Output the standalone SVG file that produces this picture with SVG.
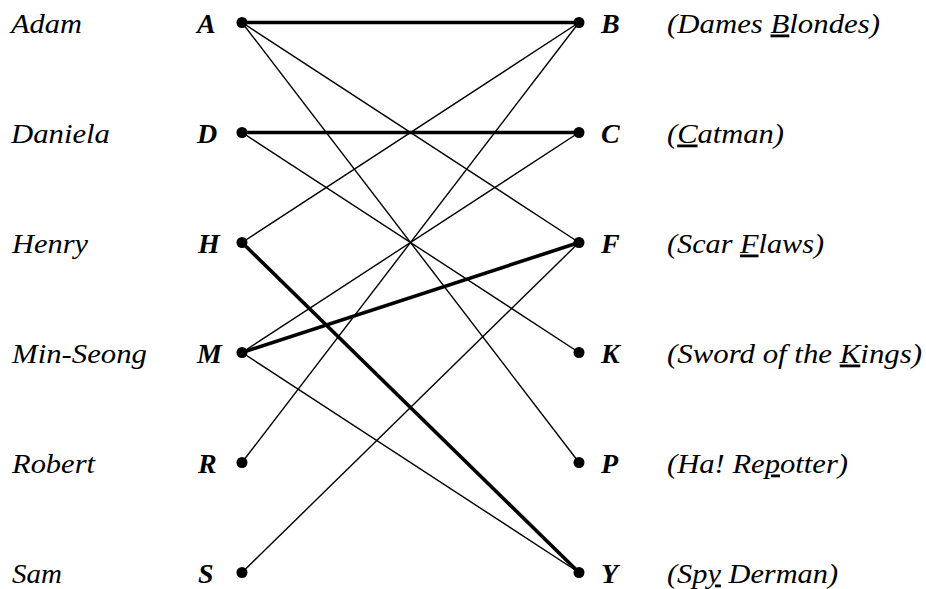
<svg xmlns="http://www.w3.org/2000/svg" width="926" height="589" viewBox="0 0 926 589">
<style>
text{font-family:"Liberation Serif","Times New Roman",serif;font-size:28px;fill:#000}
.nm{font-style:italic}
.lt{font-style:italic;font-weight:bold}
.u{text-decoration:underline}
.thin{stroke:#000;stroke-width:1.4;fill:none}
.thick{stroke:#000;stroke-width:3.6;fill:none}
.dot{fill:#000}
</style>
<rect width="926" height="589" fill="#fff"/>
<g id="connectors">
<line class="thick" x1="242" y1="22.5" x2="579" y2="22.5"/>
<line class="thin" x1="242" y1="22.5" x2="579" y2="242.5"/>
<line class="thin" x1="242" y1="22.5" x2="579" y2="462.5"/>
<line class="thick" x1="242" y1="132.5" x2="579" y2="132.5"/>
<line class="thin" x1="242" y1="132.5" x2="579" y2="352.5"/>
<line class="thin" x1="242" y1="242.5" x2="579" y2="22.5"/>
<line class="thick" x1="242" y1="242.5" x2="579" y2="572.5"/>
<line class="thin" x1="242" y1="352.5" x2="579" y2="132.5"/>
<line class="thick" x1="242" y1="352.5" x2="579" y2="242.5"/>
<line class="thin" x1="242" y1="352.5" x2="579" y2="572.5"/>
<line class="thin" x1="242" y1="462.5" x2="579" y2="22.5"/>
<line class="thin" x1="242" y1="572.5" x2="579" y2="242.5"/>
</g>
<g id="node-A"><text class="nm" x="11" y="32.5" textLength="71" lengthAdjust="spacingAndGlyphs">Adam</text><text class="lt" x="197" y="32.5">A</text><circle class="dot" cx="242" cy="22.5" r="5.5"/></g>
<g id="node-D"><text class="nm" x="11" y="142.5" textLength="99" lengthAdjust="spacingAndGlyphs">Daniela</text><text class="lt" x="197" y="142.5">D</text><circle class="dot" cx="242" cy="132.5" r="5.5"/></g>
<g id="node-H"><text class="nm" x="12" y="252.5" textLength="76" lengthAdjust="spacingAndGlyphs">Henry</text><text class="lt" x="198" y="252.5">H</text><circle class="dot" cx="242" cy="242.5" r="5.5"/></g>
<g id="node-M"><text class="nm" x="12" y="362.5" textLength="135" lengthAdjust="spacingAndGlyphs">Min-Seong</text><text class="lt" x="197" y="362.5">M</text><circle class="dot" cx="242" cy="352.5" r="5.5"/></g>
<g id="node-R"><text class="nm" x="12" y="472.5" textLength="83" lengthAdjust="spacingAndGlyphs">Robert</text><text class="lt" x="198" y="472.5">R</text><circle class="dot" cx="242" cy="462.5" r="5.5"/></g>
<g id="node-S"><text class="nm" x="12" y="582.5" textLength="50" lengthAdjust="spacingAndGlyphs">Sam</text><text class="lt" x="198" y="582.5">S</text><circle class="dot" cx="242" cy="572.5" r="5.5"/></g>
<g id="node-B"><circle class="dot" cx="579" cy="22.5" r="5.5"/><text class="lt" x="601" y="32.5">B</text><text class="nm" x="667" y="32.5" textLength="213" lengthAdjust="spacingAndGlyphs">(Dames <tspan class="u">B</tspan>londes)</text></g>
<g id="node-C"><circle class="dot" cx="579" cy="132.5" r="5.5"/><text class="lt" x="601" y="142.5">C</text><text class="nm" x="667" y="142.5" textLength="117" lengthAdjust="spacingAndGlyphs">(<tspan class="u">C</tspan>atman)</text></g>
<g id="node-F"><circle class="dot" cx="579" cy="242.5" r="5.5"/><text class="lt" x="601" y="252.5">F</text><text class="nm" x="667" y="252.5" textLength="157" lengthAdjust="spacingAndGlyphs">(Scar <tspan class="u">F</tspan>laws)</text></g>
<g id="node-K"><circle class="dot" cx="579" cy="352.5" r="5.5"/><text class="lt" x="601" y="362.5">K</text><text class="nm" x="667" y="362.5" textLength="255" lengthAdjust="spacingAndGlyphs">(Sword of the <tspan class="u">K</tspan>ings)</text></g>
<g id="node-P"><circle class="dot" cx="579" cy="462.5" r="5.5"/><text class="lt" x="601" y="472.5">P</text><text class="nm" x="667" y="472.5" textLength="181" lengthAdjust="spacingAndGlyphs">(Ha! Re<tspan class="u">p</tspan>otter)</text></g>
<g id="node-Y"><circle class="dot" cx="579" cy="572.5" r="5.5"/><text class="lt" x="601" y="582.5">Y</text><text class="nm" x="667" y="582.5" textLength="171" lengthAdjust="spacingAndGlyphs">(Sp<tspan class="u">y</tspan> Derman)</text></g>
</svg>
